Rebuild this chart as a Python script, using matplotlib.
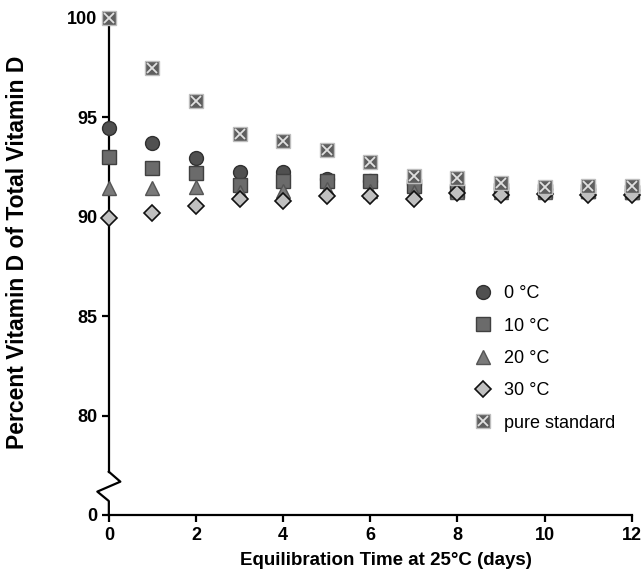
import matplotlib
matplotlib.use("Agg")
import matplotlib.pyplot as plt
from matplotlib.legend_handler import HandlerTuple

plt.rcParams['font.family'] = ['Liberation Sans', 'DejaVu Sans']

days = [0, 1, 2, 3, 4, 5, 6, 7, 8, 9, 10, 11, 12]
t0 = [94.45, 93.7, 92.95, 92.25, 92.25, 91.9, 91.8, 91.65, 91.5, 91.45, 91.4, 91.4, 91.35]
t10 = [93.0, 92.45, 92.2, 91.6, 91.8, 91.8, 91.8, 91.55, 91.3, 91.35, 91.3, 91.3, 91.25]
t20 = [91.45, 91.45, 91.5, 91.25, 91.3, 91.4, 91.3, 91.25, 91.25, 91.25, 91.25, 91.3, 91.25]
t30 = [89.95, 90.2, 90.55, 90.9, 90.8, 91.05, 91.05, 90.9, 91.2, 91.1, 91.15, 91.1, 91.1]
pure = [100.0, 97.5, 95.8, 94.15, 93.8, 93.35, 92.75, 92.05, 91.95, 91.7, 91.5, 91.55, 91.55]

yticks = [75, 80, 85, 90, 95, 100]
ytick_labels = ['0', '80', '85', '90', '95', '100']
xticks = [0, 2, 4, 6, 8, 10, 12]

fig = plt.figure(figsize=(6.44, 5.77), dpi=100)
ax = fig.add_axes([0.169, 0.1075, 0.812, 0.8615])

ms = 10
h0, = ax.plot(days, t0, 'o', ms=ms, mfc='#505050', mec='#303030', mew=1, clip_on=False, zorder=3)
h10, = ax.plot(days, t10, 's', ms=ms - 0.5, mfc='#6b6b6b', mec='#404040', mew=1, clip_on=False, zorder=4)
h20, = ax.plot(days, t20, '^', ms=ms, mfc='#7a7a7a', mec='#555555', mew=1, clip_on=False, zorder=5)
h30, = ax.plot(days, t30, 'D', ms=ms - 2, mfc='#c0c0c0', mec='#111111', mew=1.2, clip_on=False, zorder=6)
hp1, = ax.plot(days, pure, 's', ms=ms - 0.5, mfc='#5e5e5e', mec='#bdbdbd', mew=1, clip_on=False, zorder=7)
hp2, = ax.plot(days, pure, 'x', ms=ms - 3, mec='#e0e0e0', mew=1.3, clip_on=False, zorder=8)

ax.set_xlim(0, 12)
ax.set_ylim(75, 100)
ax.set_xticks(xticks)
ax.set_xticklabels([str(x) for x in xticks])
ax.set_yticks(yticks)
ax.set_yticklabels(ytick_labels)

for s in ['top', 'right', 'left']:
    ax.spines[s].set_visible(False)
ax.spines['bottom'].set_linewidth(1.6)
ax.tick_params(axis='both', direction='out', length=5, width=1.6, labelsize=13)
for lab in ax.get_xticklabels() + ax.get_yticklabels():
    lab.set_fontweight('bold')

# broken y axis drawn by hand
w = 0.022
ax.plot([0, 0], [1, 0.087], color='black', lw=1.6, transform=ax.transAxes, clip_on=False, zorder=2)
ax.plot([0, w, -w, 0, 0], [0.087, 0.067, 0.047, 0.028, 0], color='black', lw=1.6,
        transform=ax.transAxes, clip_on=False, zorder=2)

ax.set_xlabel('Equilibration Time at 25°C (days)', fontsize=13.5, fontweight='bold')
ax.set_ylabel('Percent Vitamin D of Total Vitamin D', fontsize=16.5, fontweight='bold')
ax.xaxis.set_label_coords(0.53, -0.075)
ax.yaxis.set_label_coords(-0.152, 0.529)

ax.legend([h0, h10, h20, h30, (hp1, hp2)], ['0 °C', '10 °C', '20 °C', '30 °C', 'pure standard'],
          handler_map={tuple: HandlerTuple(ndivide=1)},
          loc='upper left', bbox_to_anchor=(0.665, 0.495), frameon=False,
          fontsize=13, labelspacing=0.85, handlelength=1.1, handletextpad=0.6)

fig.savefig('out.png', dpi=100)
